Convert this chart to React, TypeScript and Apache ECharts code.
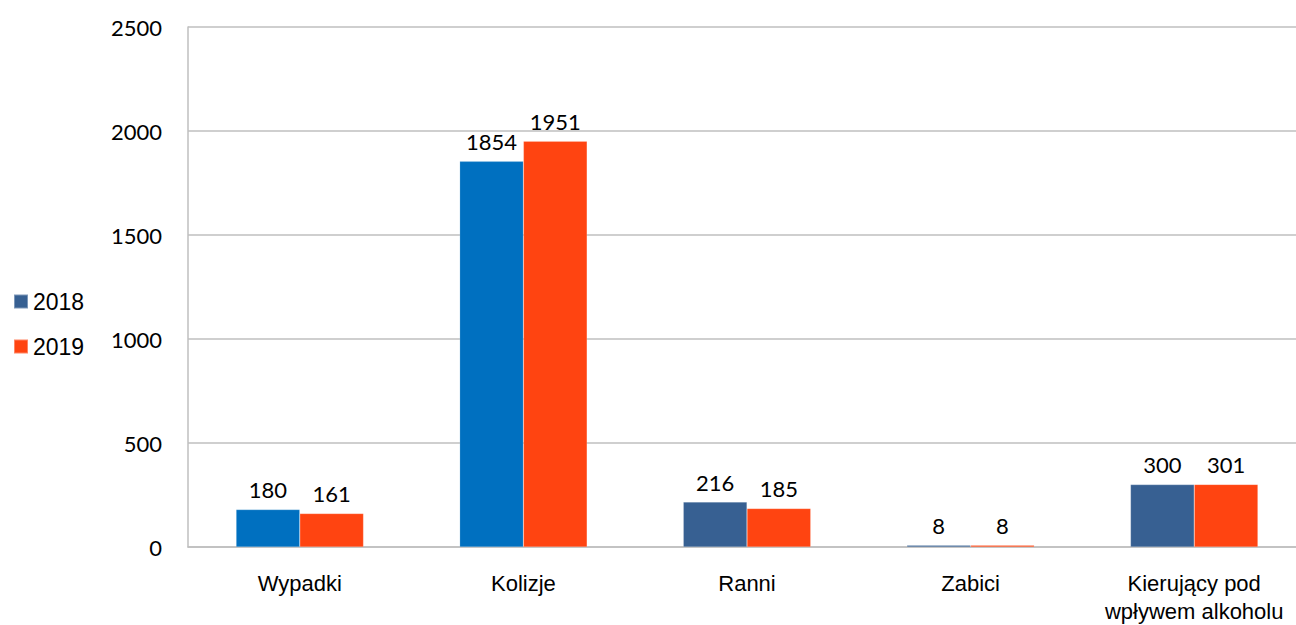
import React, { useEffect, useRef } from "react";
import * as echarts from "echarts";

const categories = ["Wypadki", "Kolizje", "Ranni", "Zabici", "Kierujący pod\nwpływem alkoholu"];
const values2018 = [180, 1854, 216, 8, 300];
const values2019 = [161, 1951, 185, 8, 301];
const colors2018 = ["#0070C0", "#0070C0", "#376092", "#376092", "#376092"];
const yTicks = { min: 0, max: 2500, interval: 500 };

export default function App() {
  const ref = useRef<HTMLDivElement>(null);
  useEffect(() => {
    if (!ref.current) return;
    const chart = echarts.init(ref.current, null, { renderer: "svg" });
    const numFont = "Lato";
    const narrowFont = "Liberation Sans";
    chart.setOption({
      animation: false,
      legend: {
        orient: "vertical",
        left: 8,
        top: 285,
        itemWidth: 14,
        itemHeight: 14,
        itemGap: 22,
        icon: "rect",
        textStyle: { fontFamily: narrowFont, fontSize: 23, color: "#000" },
        data: [
          { name: "2018", itemStyle: { color: "#376092" } },
          { name: "2019", itemStyle: { color: "#FF4411" } },
        ],
      },
      grid: { left: 188, top: 27, right: 0, bottom: 76, containLabel: false },
      xAxis: {
        type: "category",
        data: categories,
        axisLine: { show: true, lineStyle: { color: "#BFBFBF", width: 1.5 } },
        axisTick: { show: false },
        axisLabel: {
          interval: 0,
          margin: 22,
          fontFamily: narrowFont,
          fontSize: 22,
          color: "#000",
          lineHeight: 28,
        },
      },
      yAxis: {
        type: "value",
        min: yTicks.min,
        max: yTicks.max,
        interval: yTicks.interval,
        axisLine: { show: true, lineStyle: { color: "#BFBFBF", width: 1.5 } },
        axisTick: { show: false },
        splitLine: { show: true, lineStyle: { color: "#BFBFBF", width: 1.5 } },
        axisLabel: {
          margin: 26,
          fontFamily: numFont,
          fontSize: 22,
          color: "#000",
          formatter: (v: number) => String(v),
        },
      },
      series: [
        {
          name: "2018",
          type: "bar",
          barGap: "0%",
          barCategoryGap: "43%",
          data: values2018.map((v, i) => ({ value: v, itemStyle: { color: colors2018[i] } })),
          itemStyle: { color: "#376092", borderColor: "rgba(255,255,255,0.35)", borderWidth: 0.5 },
          label: { show: true, position: "top", distance: 9, fontFamily: numFont, fontSize: 22, color: "#000" },
        },
        {
          name: "2019",
          type: "bar",
          data: values2019,
          itemStyle: { color: "#FF4411", borderColor: "rgba(255,255,255,0.35)", borderWidth: 0.5 },
          label: { show: true, position: "top", distance: 9, fontFamily: numFont, fontSize: 22, color: "#000" },
        },
      ],
    });
    return () => chart.dispose();
  }, []);
  return (
    <div style={{ position: "absolute", left: 0, top: 0, width: 1296, height: 625, overflow: "hidden", background: "#fff" }}>
      <div ref={ref} style={{ width: 1306, height: 625 }} />
    </div>
  );
}
